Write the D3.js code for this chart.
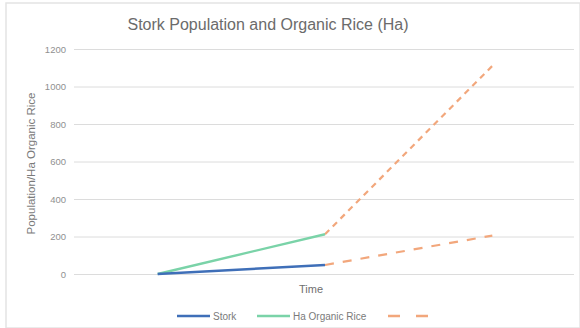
<!DOCTYPE html>
<html>
<head>
<meta charset="utf-8">
<script src="https://cdn.jsdelivr.net/npm/d3@7"></script>
<style>
  html, body { margin: 0; padding: 0; background: #fff; }
  svg { display: block; font-family: "Liberation Sans", Arial, sans-serif; }
</style>
</head>
<body>
<svg id="chart" width="580" height="328"></svg>
<script>
// Chart data
const categories = ["T1", "T2", "T3"];
const stork = [0, 48, null];
const organicRice = [0, 212, null];
const projectionRice = [null, 212, 1110];
const projectionStork = [null, 48, 205];
const yTicks = [0, 200, 400, 600, 800, 1000, 1200];
const legendLabels = ["Stork", "Ha Organic Rice", ""];

const colors = { stork: "#3f6fb8", rice: "#7ad3a8", proj: "#f2a77c" };

const svg = d3.select("#chart");
const W = 580, H = 328;
const plot = { left: 74, right: 576, top: 49, bottom: 274 };

// chart frame
svg.append("rect").attr("x", 6).attr("y", 3).attr("width", W - 6).attr("height", H - 3)
  .attr("fill", "#fff").attr("stroke", "#e4e4e4").attr("stroke-width", 1.5);

const x = d3.scaleBand().domain(categories).range([plot.left, plot.right]);
const y = d3.scaleLinear().domain([0, 1200]).range([plot.bottom, plot.top]);
const cx = c => x(c) + x.bandwidth() / 2;

// gridlines and value labels
const yAxis = d3.axisLeft(y).tickValues(yTicks).tickFormat(d3.format("d"))
  .tickSize(-(plot.right - plot.left - 2)).tickPadding(8);
const gy = svg.append("g").attr("transform", `translate(${plot.left},0)`).call(yAxis);
gy.select(".domain").remove();
gy.selectAll(".tick line").attr("stroke", "#dcdcdc").attr("stroke-width", 1);
gy.selectAll(".tick text").attr("fill", "#909090").attr("font-size", 9.5);

// title
svg.append("text").attr("x", 268).attr("y", 30).attr("text-anchor", "middle")
  .attr("fill", "#6b6b6b").attr("font-size", 16).text("Stork Population and Organic Rice (Ha)");

// axis titles
svg.append("text").attr("transform", `translate(35,${(plot.top + plot.bottom) / 2 + 2}) rotate(-90)`)
  .attr("text-anchor", "middle").attr("fill", "#7a7a7a").attr("font-size", 11.5)
  .text("Population/Ha Organic Rice");
svg.append("text").attr("x", 311).attr("y", 293).attr("text-anchor", "middle")
  .attr("fill", "#6f6f6f").attr("font-size", 11).text("Time");

const line = d3.line()
  .defined(d => d.v !== null)
  .x(d => cx(d.c))
  .y(d => y(d.v));
const pts = arr => arr.map((v, i) => ({ c: categories[i], v }));

// projections (dashed)
svg.append("path").datum(pts(projectionRice)).attr("d", line)
  .attr("fill", "none").attr("stroke", colors.proj).attr("stroke-width", 2.2)
  .attr("stroke-dasharray", "6,5");
svg.append("path").datum(pts(projectionStork)).attr("d", line)
  .attr("fill", "none").attr("stroke", colors.proj).attr("stroke-width", 2.2)
  .attr("stroke-dasharray", "9,9");

// observed series
svg.append("path").datum(pts(organicRice)).attr("d", line)
  .attr("fill", "none").attr("stroke", colors.rice).attr("stroke-width", 2.4);
svg.append("path").datum(pts(stork)).attr("d", line)
  .attr("fill", "none").attr("stroke", colors.stork).attr("stroke-width", 2.4);

// legend
const lg = svg.append("g").attr("font-size", 10).attr("fill", "#7a7a7a");
const items = [
  { x: 177, w: 33, color: colors.stork, dash: null, label: legendLabels[0] },
  { x: 257, w: 33, color: colors.rice, dash: null, label: legendLabels[1] },
  { x: 388, w: 40, color: colors.proj, dash: "12,16", label: legendLabels[2] }
];
items.forEach(it => {
  lg.append("line").attr("x1", it.x).attr("x2", it.x + it.w).attr("y1", 316).attr("y2", 316)
    .attr("stroke", it.color).attr("stroke-width", 2.4).attr("stroke-dasharray", it.dash);
  if (it.label) lg.append("text").attr("x", it.x + it.w + 3).attr("y", 319.5).text(it.label);
});
</script>
</body>
</html>
